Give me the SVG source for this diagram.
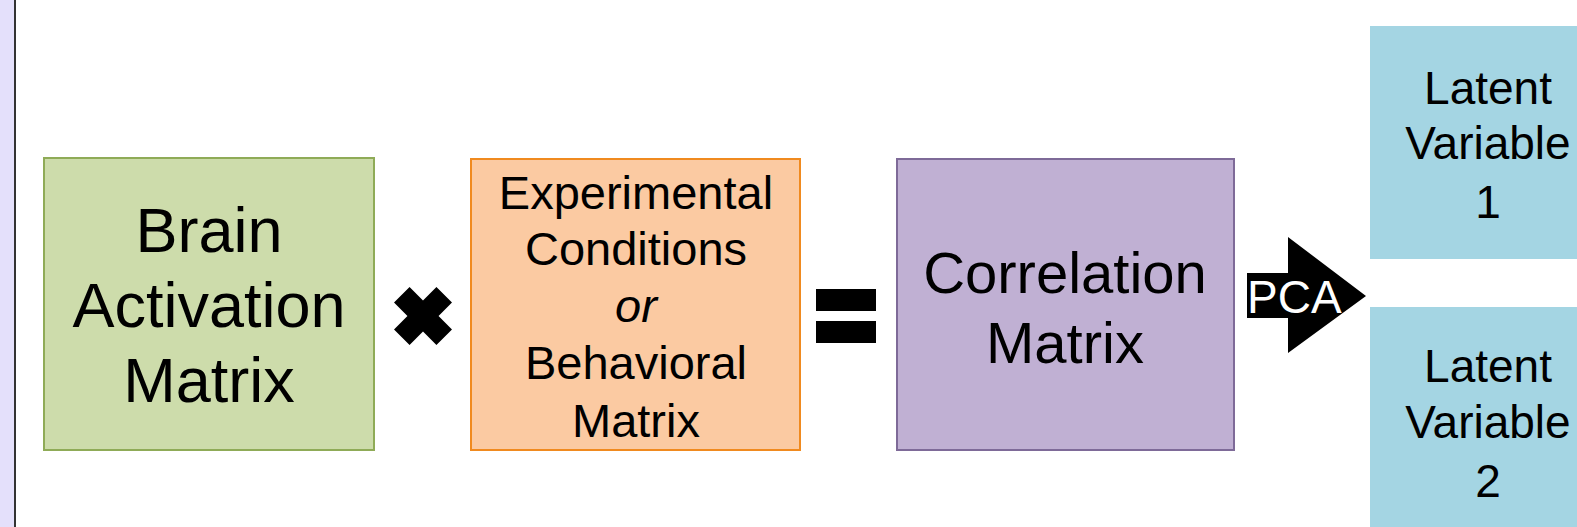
<svg xmlns="http://www.w3.org/2000/svg" width="1577" height="527" viewBox="0 0 1577 527">
<style>
.t{font-family:"Liberation Sans",Arial,sans-serif;fill:#000;text-anchor:middle}
.box{stroke-width:2}
</style>
<rect x="0" y="0" width="1577" height="527" fill="#ffffff"/>
<rect x="0" y="0" width="15" height="527" fill="#e4e0fb"/>
<rect x="14" y="0" width="2" height="527" fill="#333333"/>

<g id="brain">
<rect class="box" x="44" y="158" width="330" height="292" fill="#cddcab" stroke="#8fab57"/>
<text class="t" font-size="63"><tspan x="209" y="252">Brain</tspan><tspan x="209" y="327">Activation</tspan><tspan x="209" y="402">Matrix</tspan></text>
</g>

<g id="times">
<polygon transform="translate(423,316) rotate(45)" points="11,-30 11,-11 30,-11 30,11 11,11 11,30 -11,30 -11,11 -30,11 -30,-11 -11,-11 -11,-30" fill="#000"/>
</g>

<g id="conditions">
<rect class="box" x="471" y="159" width="329" height="291" fill="#fbcaa2" stroke="#f08a1f"/>
<text class="t" font-size="47"><tspan x="636" y="209">Experimental</tspan><tspan x="636" y="265">Conditions</tspan><tspan x="636" y="322" font-style="italic">or</tspan><tspan x="636" y="379">Behavioral</tspan><tspan x="636" y="437">Matrix</tspan></text>
</g>

<g id="equals">
<rect x="816" y="289" width="60" height="22" fill="#000"/>
<rect x="816" y="321" width="60" height="22" fill="#000"/>
</g>

<g id="correlation">
<rect class="box" x="897" y="159" width="337" height="291" fill="#c0b0d3" stroke="#7e6a98"/>
<text class="t" font-size="58"><tspan x="1065" y="293">Correlation</tspan><tspan x="1065" y="363">Matrix</tspan></text>
</g>

<g id="connectors">
<polygon points="1247,273 1288,273 1288,237 1366,296 1288,353 1288,318 1247,318" fill="#000"/>
<text x="1247" y="313" font-family="Liberation Sans, Arial, sans-serif" font-size="46" fill="#fff">PCA</text>
</g>

<g id="lv1">
<rect x="1370" y="26" width="240" height="233" fill="#a4d5e3"/>
<text class="t" font-size="46"><tspan x="1488" y="104">Latent</tspan><tspan x="1488" y="159">Variable</tspan><tspan x="1488" y="218">1</tspan></text>
</g>

<g id="lv2">
<rect x="1370" y="307" width="240" height="240" fill="#a4d5e3"/>
<text class="t" font-size="46"><tspan x="1488" y="382">Latent</tspan><tspan x="1488" y="438">Variable</tspan><tspan x="1488" y="497">2</tspan></text>
</g>
</svg>
